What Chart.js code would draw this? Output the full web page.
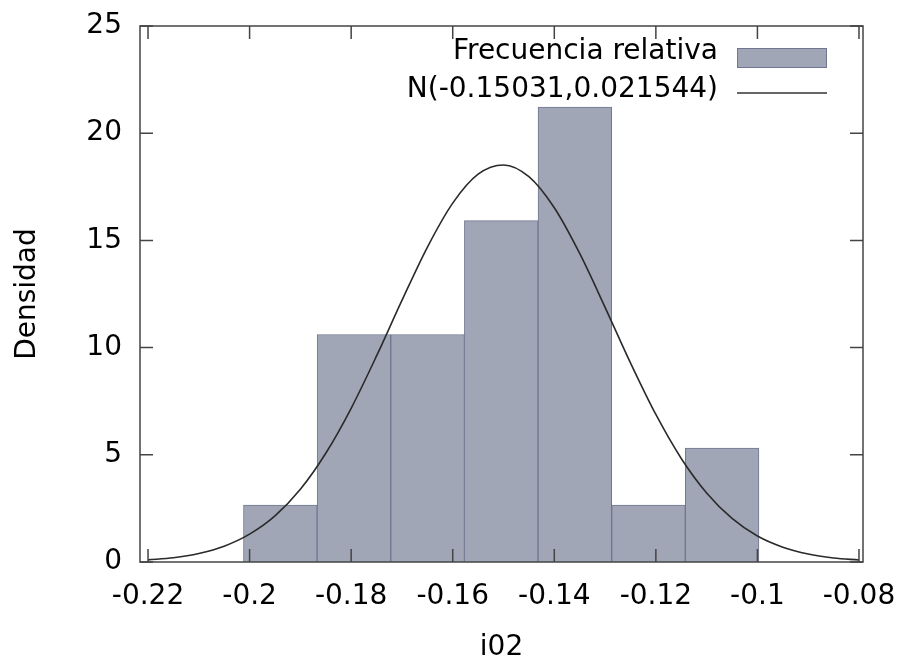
<!DOCTYPE html>
<html>
<head>
<meta charset="utf-8">
<script src="https://cdn.jsdelivr.net/npm/chart.js@4.4.0/dist/chart.umd.min.js"></script>
<style>
  html, body { margin: 0; padding: 0; background: #fff; }
  #contenedor { width: 901px; height: 661px; }
</style>
</head>
<body>
<div id="contenedor"><canvas id="graficoHistograma"></canvas></div>
<script>
// Centros de clase del histograma y densidad de cada clase
const centrosClase = [-0.19395, -0.17945, -0.16495, -0.15045, -0.13595, -0.12145, -0.10695];
const densidad = [2.65, 10.61, 10.61, 15.92, 21.22, 2.65, 5.31];

// Curva normal
const curvaX = [-0.22, -0.215, -0.21, -0.205, -0.2, -0.195, -0.19, -0.185, -0.18, -0.175,
                -0.17, -0.165, -0.16, -0.155, -0.15, -0.145, -0.14, -0.135, -0.13, -0.125,
                -0.12, -0.115, -0.11, -0.105, -0.1, -0.095, -0.09, -0.085, -0.08];
const curvaY = [0.10, 0.20, 0.40, 0.74, 1.30, 2.15, 3.39, 5.07, 7.17, 9.61,
                12.20, 14.68, 16.74, 18.09, 18.52, 17.97, 16.52, 14.39, 11.88, 9.29,
                6.88, 4.83, 3.22, 2.03, 1.21, 0.69, 0.37, 0.19, 0.09];

const ticksX = [-0.22, -0.2, -0.18, -0.16, -0.14, -0.12, -0.1, -0.08];
const ticksY = [0, 5, 10, 15, 20, 25];

const fuente = "'DejaVu Sans', Verdana, sans-serif";
const colorMarco = '#444';

// Marco con marcas hacia dentro (estilo gnuplot) y leyenda
const marcoYLeyenda = {
    id: 'marcoYLeyenda',
    afterDatasetsDraw(chart) {
        const ctx = chart.ctx;
        const a = chart.chartArea;
        const sx = chart.scales.x, sy = chart.scales.y;
        const largo = 13;
        ctx.save();
        ctx.strokeStyle = colorMarco;
        ctx.lineWidth = 1.5;
        ctx.strokeRect(a.left, a.top, a.right - a.left, a.bottom - a.top);
        ctx.beginPath();
        sx.ticks.forEach(t => {
            const px = sx.getPixelForValue(t.value);
            ctx.moveTo(px, a.bottom); ctx.lineTo(px, a.bottom - largo);
            ctx.moveTo(px, a.top); ctx.lineTo(px, a.top + largo);
        });
        sy.ticks.forEach(t => {
            const py = sy.getPixelForValue(t.value);
            ctx.moveTo(a.left, py); ctx.lineTo(a.left + largo, py);
            ctx.moveTo(a.right, py); ctx.lineTo(a.right - largo, py);
        });
        ctx.stroke();

        // leyenda
        const textoDer = a.right - 145;
        const muestraIzq = a.right - 126;
        ctx.font = "28px " + fuente;
        ctx.fillStyle = '#000';
        ctx.textAlign = 'right';
        ctx.textBaseline = 'middle';
        ctx.fillText('Frecuencia relativa', textoDer, a.top + 26);
        ctx.fillText('N(-0.15031,0.021544)', textoDer, a.top + 64);
        ctx.fillStyle = '#a0a6b5';
        ctx.strokeStyle = '#6f7890';
        ctx.lineWidth = 1;
        ctx.fillRect(muestraIzq, a.top + 22, 90, 20);
        ctx.strokeRect(muestraIzq + 0.5, a.top + 22.5, 89, 19);
        ctx.strokeStyle = '#333';
        ctx.lineWidth = 1.5;
        ctx.beginPath();
        ctx.moveTo(muestraIzq, a.top + 67);
        ctx.lineTo(muestraIzq + 90, a.top + 67);
        ctx.stroke();
        ctx.restore();
    }
};

const ctx = document.getElementById('graficoHistograma');
new Chart(ctx.getContext('2d'), {
    type: 'bar',
    data: {
        datasets: [{
            type: 'line',
            label: 'N(-0.15031,0.021544)',
            data: curvaX.map((x, i) => ({ x: x, y: curvaY[i] })),
            borderColor: '#2a2a2a',
            borderWidth: 1.6,
            pointRadius: 0,
            fill: false,
            cubicInterpolationMode: 'monotone',
            order: 0
        }, {
            type: 'bar',
            label: 'Frecuencia relativa',
            data: centrosClase.map((c, i) => ({ x: c, y: densidad[i] })),
            backgroundColor: '#a0a6b5',
            borderColor: '#6f7890',
            borderWidth: 1,
            barPercentage: 1,
            categoryPercentage: 1,
            grouped: false,
            order: 1
        }]
    },
    options: {
        responsive: true,
        maintainAspectRatio: false,
        animation: false,
        layout: { padding: { top: 26, right: 38, left: 0, bottom: 0 } },
        plugins: {
            legend: { display: false },
            tooltip: { enabled: false }
        },
        scales: {
            x: {
                type: 'linear',
                offset: false,
                min: -0.22158,
                max: -0.07921,
                afterBuildTicks: s => { s.ticks = ticksX.map(v => ({ value: v })); },
                afterFit: s => { s.height = 99; s.paddingLeft = 0; s.paddingRight = 0; },
                grid: { display: false, drawTicks: false },
                border: { display: false },
                ticks: {
                    color: '#000',
                    font: { family: fuente, size: 28 },
                    padding: 18,
                    maxRotation: 0,
                    autoSkip: false,
                    callback: v => String(v)
                },
                title: {
                    display: true,
                    text: 'i02',
                    color: '#000',
                    font: { family: fuente, size: 28 },
                    padding: { top: 0, bottom: -4 }
                }
            },
            y: {
                min: 0,
                max: 25,
                afterBuildTicks: s => { s.ticks = ticksY.map(v => ({ value: v })); },
                afterFit: s => { s.width = 140; s.paddingTop = 0; s.paddingBottom = 0; },
                grid: { display: false, drawTicks: false },
                border: { display: false },
                ticks: {
                    color: '#000',
                    font: { family: fuente, size: 28 },
                    padding: 18,
                    callback: v => String(v)
                },
                title: {
                    display: true,
                    text: 'Densidad',
                    color: '#000',
                    font: { family: fuente, size: 28 },
                    padding: { top: 11, bottom: 0 }
                }
            }
        }
    },
    plugins: [marcoYLeyenda]
});
</script>
</body>
</html>
